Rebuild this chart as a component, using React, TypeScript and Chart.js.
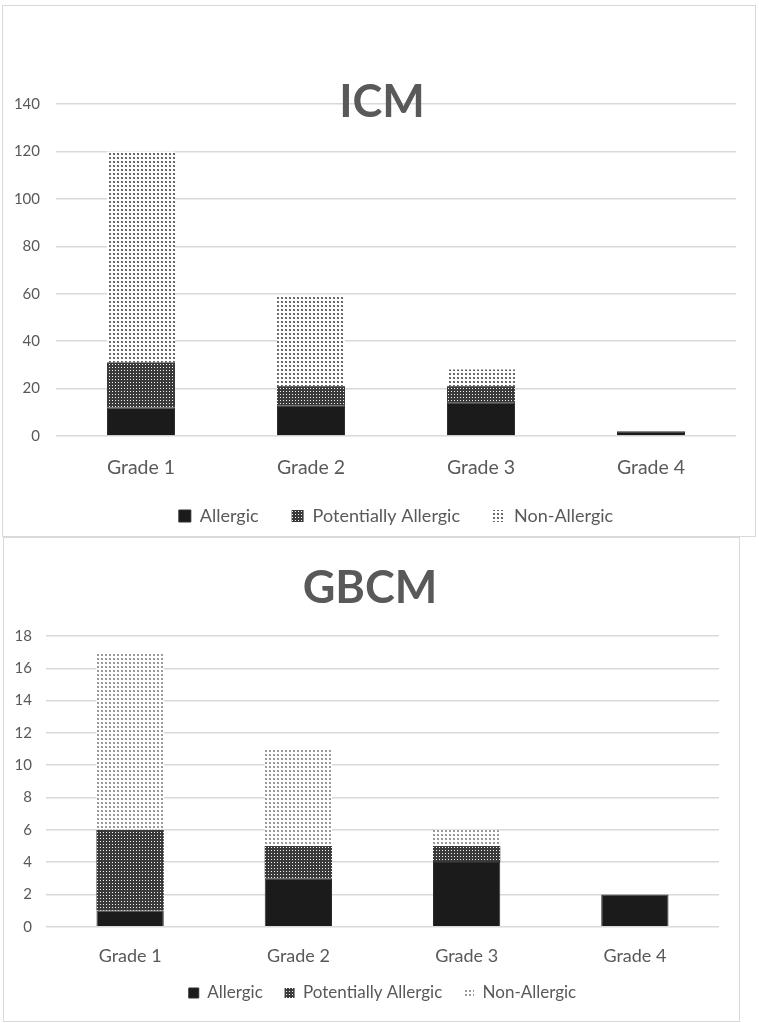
import React, { useEffect, useRef } from 'react';
import { Chart, registerables } from 'chart.js';

Chart.register(...registerables);

const categories = ['Grade 1', 'Grade 2', 'Grade 3', 'Grade 4'];
const seriesNames = ['Allergic', 'Potentially Allergic', 'Non-Allergic'];

const icmTitle = 'ICM';
const icmAllergic = [12, 13, 14, 2];
const icmPotentially = [19, 8, 7, 0];
const icmNonAllergic = [89, 38, 7, 0];
const icmYMax = 140;
const icmYStep = 20;

const gbcmTitle = 'GBCM';
const gbcmAllergic = [1, 3, 4, 2];
const gbcmPotentially = [5, 2, 1, 0];
const gbcmNonAllergic = [11, 6, 1, 0];
const gbcmYMax = 18;
const gbcmYStep = 2;

const TEXT = '#595959';
const GRID = '#d9d9d9';
const FONT = 'Lato, "Open Sans", sans-serif';

function makePattern(size: number, bg: string, cells: Array<[number, number, string]>) {
  const c = document.createElement('canvas');
  c.width = size;
  c.height = size;
  const g = c.getContext('2d')!;
  g.fillStyle = bg;
  g.fillRect(0, 0, size, size);
  for (const [x, y, col] of cells) {
    g.fillStyle = col;
    g.fillRect(x, y, 1, 1);
  }
  const ctx = document.createElement('canvas').getContext('2d')!;
  return ctx.createPattern(c, 'repeat')!;
}

const overlayTitle = {
  id: 'overlayTitle',
  afterDraw(chart: any, _args: any, opts: any) {
    const ctx = chart.ctx;
    ctx.save();
    ctx.font = `bold ${opts.size}px ${FONT}`;
    ctx.fillStyle = TEXT;
    ctx.textAlign = 'center';
    ctx.textBaseline = 'alphabetic';
    ctx.fillText(opts.text, opts.x, opts.y);
    ctx.restore();
  },
};

interface Cfg {
  title: string;
  titleX: number;
  titleY: number;
  allergic: number[];
  potentially: number[];
  nonAllergic: number[];
  yMax: number;
  yStep: number;
  padTop: number;
  padRight: number;
  padBottom: number;
  yWidth: number;
  yPad: number;
  xHeight: number;
  xPad: number;
  xFont: number;
  legendFont: number;
  legendBox: number;
  legendPad: number;
  nonLight: boolean;
}

function build(canvas: HTMLCanvasElement, cfg: Cfg) {
  const potPattern = makePattern(3, '#3a3a3a', [[1, 1, '#f4f4f4']]);
  const dot = cfg.nonLight ? ['#8c8c8c', '#a8a8a8'] : ['#5a5a5a', '#7a7a7a'];
  const nonPattern = makePattern(4, '#ffffff', [
    [1, 1, dot[0]],
    [2, 1, dot[1]],
    [1, 2, dot[1]],
    [2, 2, dot[0]],
  ]);
  return new Chart(canvas, {
    type: 'bar',
    data: {
      labels: categories,
      datasets: [
        {
          label: seriesNames[0],
          data: cfg.allergic,
          backgroundColor: '#1b1b1b',
          borderColor: '#2e2e2e',
          borderWidth: 1,
        },
        {
          label: seriesNames[1],
          data: cfg.potentially,
          backgroundColor: potPattern as any,
          borderWidth: 0,
        },
        {
          label: seriesNames[2],
          data: cfg.nonAllergic,
          backgroundColor: nonPattern as any,
          borderWidth: 0,
        },
      ],
    },
    options: {
      responsive: false,
      animation: false,
      layout: { padding: { top: cfg.padTop, right: cfg.padRight, bottom: cfg.padBottom, left: 0 } },
      datasets: { bar: { categoryPercentage: 0.4, barPercentage: 1 } },
      scales: {
        x: {
          stacked: true,
          grid: { display: false },
          border: { display: false },
          ticks: { color: TEXT, font: { family: FONT, size: cfg.xFont }, padding: cfg.xPad },
          afterFit: (s: any) => {
            s.height = cfg.xHeight;
          },
        },
        y: {
          stacked: true,
          min: 0,
          max: cfg.yMax,
          grid: { color: GRID, lineWidth: 1.5, drawTicks: false },
          border: { display: false },
          ticks: { stepSize: cfg.yStep, color: TEXT, font: { family: FONT, size: 15 }, padding: cfg.yPad },
          afterFit: (s: any) => {
            s.width = cfg.yWidth;
          },
        },
      },
      plugins: {
        legend: {
          position: 'bottom',
          fullSize: false,
          labels: {
            color: TEXT,
            font: { family: FONT, size: cfg.legendFont },
            boxWidth: cfg.legendBox,
            boxHeight: cfg.legendBox,
            padding: cfg.legendPad,
          },
        },
        tooltip: { enabled: false },
        overlayTitle: { text: cfg.title, x: cfg.titleX, y: cfg.titleY, size: 45 },
      } as any,
    },
    plugins: [overlayTitle],
  });
}

export default function App() {
  const topRef = useRef<HTMLCanvasElement>(null);
  const botRef = useRef<HTMLCanvasElement>(null);

  useEffect(() => {
    const c1 = build(topRef.current!, {
      title: icmTitle,
      titleX: 382,
      titleY: 117,
      allergic: icmAllergic,
      potentially: icmPotentially,
      nonAllergic: icmNonAllergic,
      yMax: icmYMax,
      yStep: icmYStep,
      padTop: 104,
      padRight: 23,
      padBottom: 1,
      yWidth: 56,
      yPad: 16,
      xHeight: 38,
      xPad: 12,
      xFont: 19.5,
      legendFont: 18,
      legendBox: 12,
      legendPad: 33,
      nonLight: false,
    });
    const c2 = build(botRef.current!, {
      title: gbcmTitle,
      titleX: 370,
      titleY: 66,
      allergic: gbcmAllergic,
      potentially: gbcmPotentially,
      nonAllergic: gbcmNonAllergic,
      yMax: gbcmYMax,
      yStep: gbcmYStep,
      padTop: 99,
      padRight: 40,
      padBottom: 9.5,
      yWidth: 46,
      yPad: 14,
      xHeight: 36,
      xPad: 10.5,
      xFont: 18,
      legendFont: 17,
      legendBox: 10,
      legendPad: 21.8,
      nonLight: true,
    });
    return () => {
      c1.destroy();
      c2.destroy();
    };
  }, []);

  return (
    <div style={{ position: 'absolute', left: 0, top: 0, width: 759, height: 1023, background: '#fff' }}>
      <div
        style={{
          position: 'absolute',
          left: 2,
          top: 5,
          width: 754,
          height: 532,
          border: '1.5px solid #d9d9d9',
          boxSizing: 'border-box',
        }}
      />
      <div
        style={{
          position: 'absolute',
          left: 3,
          top: 537,
          width: 737,
          height: 485,
          border: '1.5px solid #d9d9d9',
          boxSizing: 'border-box',
        }}
      />
      <canvas
        ref={topRef}
        width={759}
        height={536}
        style={{ position: 'absolute', left: 0, top: 0, width: 759, height: 536 }}
      />
      <canvas
        ref={botRef}
        width={759}
        height={484}
        style={{ position: 'absolute', left: 0, top: 537, width: 759, height: 484 }}
      />
    </div>
  );
}
